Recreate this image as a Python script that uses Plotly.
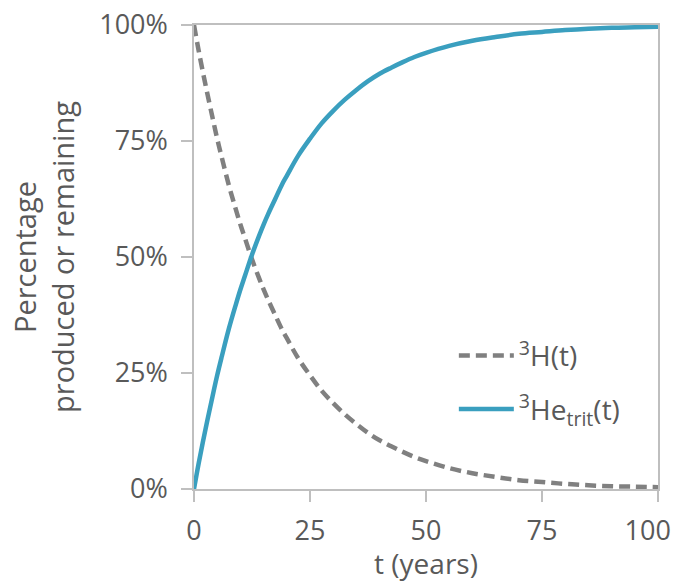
import plotly.graph_objects as go

# Time since production (years)
years = [0, 1, 2.5, 4, 5, 6, 7.5, 9, 10, 11, 12.5, 14, 15, 16, 17.5, 19, 20,
         22.5, 25, 27.5, 30, 32.5, 35, 37.5, 40, 42.5, 45, 47.5, 50, 55, 60,
         65, 70, 75, 80, 85, 90, 95, 100]

# Tritium remaining (%)
tritium = [100, 94.5, 87, 80, 75.5, 71.4, 65.5, 60.3, 57, 54, 49.5, 45.5, 43,
           40.7, 37.5, 34.3, 32.5, 28.1, 24.5, 21.2, 18.5, 16.1, 14, 12.1,
           10.5, 9.2, 8, 6.9, 6, 4.5, 3.4, 2.6, 1.9, 1.5, 1.1, 0.8, 0.6, 0.5,
           0.4]

# Tritiogenic helium-3 produced (%)
helium = [0, 5.5, 13, 20, 24.5, 28.6, 34.5, 39.7, 43, 46, 50.5, 54.5, 57,
          59.3, 62.5, 65.7, 67.5, 71.9, 75.5, 78.8, 81.5, 83.9, 86, 87.9,
          89.5, 90.8, 92, 93.1, 94, 95.5, 96.6, 97.4, 98.1, 98.5, 98.9, 99.2,
          99.4, 99.5, 99.6]

x_ticks = [0, 25, 50, 75, 100]
# the last label is padded so it stays inside the page
x_tick_labels = ["0", "25", "50", "75", "100\u2002\u00a0"]
y_ticks = [0, 25, 50, 75, 100]
y_tick_labels = ["0%", "25%", "50%", "75%", "100%"]

FONT = "Open Sans"
TEXT = "#595959"
AXIS = "#bfbfbf"

fig = go.Figure()
fig.add_trace(go.Scatter(
    x=years, y=tritium, mode="lines", line_shape="spline",
    name="<sup>3</sup>H(t)", legendgroup="h",
    line=dict(color="#808080", width=4.5, dash="11px,6px"),
))
fig.add_trace(go.Scatter(
    x=years, y=helium, mode="lines", line_shape="spline",
    name="<sup>3</sup>He<sub>trit</sub>(t)", legendgroup="he",
    line=dict(color="#3a9fbf", width=4.5),
))

fig.update_layout(
    width=677, height=582,
    margin=dict(l=194, r=19, t=25, b=93, autoexpand=False),
    paper_bgcolor="white", plot_bgcolor="white",
    font=dict(family=FONT, size=26, color=TEXT),
    showlegend=True,
    legend=dict(
        x=0.56, y=0.23, xanchor="left", yanchor="middle",
        bgcolor="rgba(0,0,0,0)", font=dict(size=28, color=TEXT),
        itemwidth=55, traceorder="grouped", tracegroupgap=14,
    ),
)

fig.update_xaxes(
    range=[0, 100], tickvals=x_ticks, ticktext=x_tick_labels,
    ticks="outside", ticklen=11,
    tickwidth=1.5, tickcolor=AXIS, showline=True, linecolor=AXIS,
    linewidth=1.5, mirror=True, showgrid=False, zeroline=False,
    automargin=False, ticklabelstandoff=6, ticklabeloverflow="allow",
    tickfont=dict(size=27, color=TEXT),
    title=dict(text="t (years)", font=dict(size=28, color=TEXT), standoff=13),
)
fig.update_yaxes(
    range=[0, 100], tickvals=y_ticks, ticktext=y_tick_labels,
    ticks="outside", ticklen=11, tickwidth=1.5, tickcolor=AXIS,
    showline=True, linecolor=AXIS, linewidth=1.5, mirror=True,
    showgrid=False, zeroline=False, automargin=False,
    ticklabelstandoff=8, ticklabeloverflow="allow",
    tickfont=dict(size=27, color=TEXT),
    title=dict(text="Percentage<br>produced or remaining",
               font=dict(size=29, color=TEXT), standoff=16),
)

fig.write_html("out.html")
